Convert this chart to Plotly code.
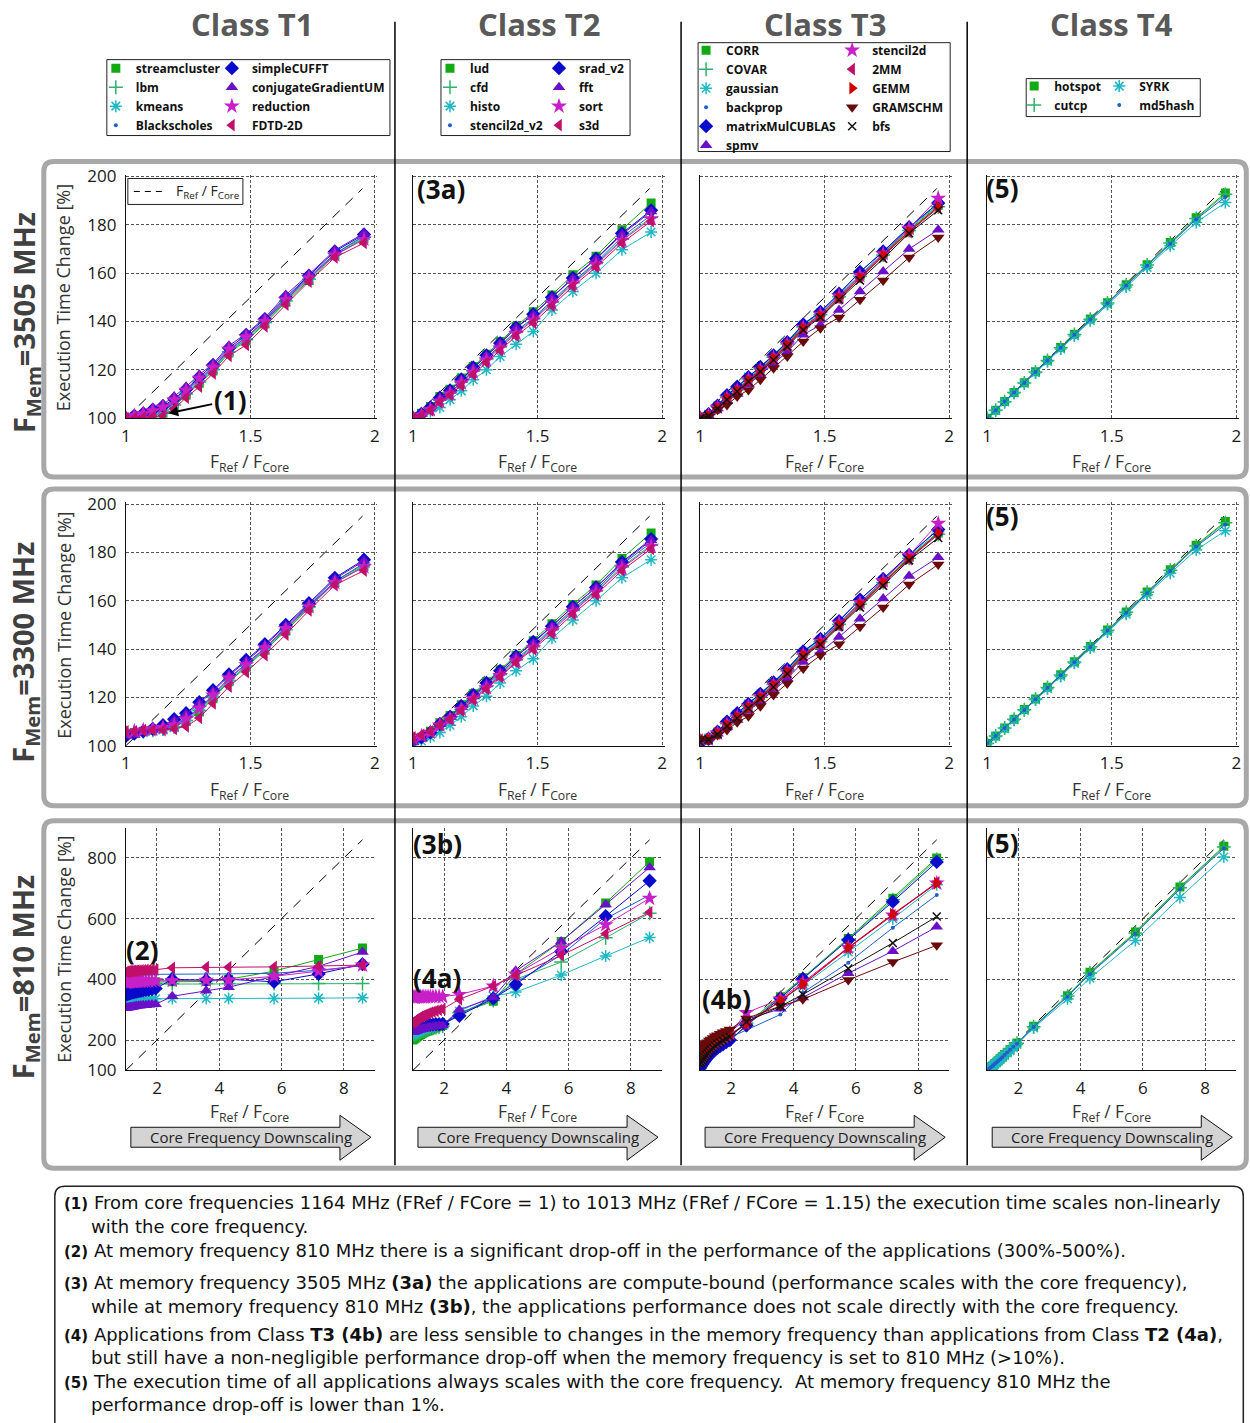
import plotly.graph_objects as go

# ------------------------------------------------------------------ data
X_HI = [1.0, 1.034, 1.07, 1.108, 1.149, 1.194, 1.242, 1.295, 1.35, 1.414, 1.483, 1.558, 1.642, 1.735, 1.839, 1.956]
X_LO = [1.0, 1.034, 1.07, 1.108, 1.149, 1.194, 1.242, 1.295, 1.35, 1.414, 1.483, 1.558, 1.642, 1.735, 1.839, 1.956,
        2.49, 3.58, 4.3, 5.76, 7.19, 8.6]
DIAG_HI_X = [1.0, 1.95]
DIAG_HI_Y = [100, 195]
DIAG_LO_X = [1.0, 8.6]
DIAG_LO_Y = [100, 860]

X_TICKS_HI = [1, 1.5, 2]
X_TICKTEXT_HI = ["1", "1.5", "2"]
Y_TICKS_HI = [100, 120, 140, 160, 180, 200]
X_TICKS_LO = [2, 4, 6, 8]
Y_TICKS_LO = [100, 200, 400, 600, 800]

CLASS_TITLES = ["Class T1", "Class T2", "Class T3", "Class T4"]
MEM_LABELS = ["F<sub>Mem</sub>=3505 MHz", "F<sub>Mem</sub>=3300 MHz", "F<sub>Mem</sub>=810 MHz"]

T1_NAMES = ["streamcluster", "lbm", "kmeans", "Blackscholes", "simpleCUFFT", "conjugateGradientUM", "reduction", "FDTD-2D"]
T1_KINDS = ["sq", "plus", "ast", "dot", "dia", "tri", "star", "ltri"]
T1_3505 = {
    "streamcluster": [100, 100.5, 101, 101.5, 102, 105, 109.5, 114.5, 119.5, 127, 132, 139, 148, 157, 167.5, 174.5],
    "lbm": [100, 100.5, 101, 101.5, 102, 105.5, 110, 115, 120, 127.5, 132.5, 139.5, 148.5, 157.5, 168, 175],
    "kmeans": [100, 100.6, 101.2, 102, 103, 106, 110.5, 115.5, 120.5, 127.5, 133, 140, 149, 158, 167.5, 174],
    "Blackscholes": [100, 100.8, 101.5, 102.5, 103.5, 107, 111, 116, 121, 128, 133.5, 140.5, 149.5, 158.5, 168, 175.5],
    "simpleCUFFT": [100, 101, 102, 103.5, 105, 108, 112, 117, 122, 129, 134.5, 141, 150, 159, 169, 176],
    "conjugateGradientUM": [100, 101.4, 102.2, 104, 105.8, 109, 113, 118, 122.5, 130, 135, 141.5, 151, 159.5, 169.5, 176.5],
    "reduction": [100, 101, 101.8, 103, 104.5, 107.5, 111.5, 116.5, 121, 128.5, 133.5, 140, 149, 158, 167.5, 174],
    "FDTD-2D": [100, 100, 100.3, 100.6, 101, 104, 108.5, 113, 118.5, 125.8, 130.3, 138, 147, 156.5, 166.5, 172.5],
}
T1_3300 = {
    "streamcluster": [105, 105.5, 106, 106.5, 107, 108, 110, 114, 119.5, 126.5, 132.5, 139.5, 147.5, 157, 167.5, 174.5],
    "lbm": [105, 105.5, 106, 106.5, 107, 108, 110.5, 114.5, 120, 127, 133, 140, 148, 157.5, 168, 175],
    "kmeans": [104.5, 105, 105.5, 106, 106.5, 107.5, 110.5, 115, 120.5, 127, 133, 140, 148.5, 157.5, 167.5, 174],
    "Blackscholes": [104, 104.5, 105.5, 106, 107, 108.5, 111.5, 115.5, 121, 128, 134, 140.5, 149, 158, 168, 175.5],
    "simpleCUFFT": [104, 105, 106, 107, 108.5, 111, 113.5, 118, 123, 129.5, 135.5, 142, 150, 159, 169.5, 177],
    "conjugateGradientUM": [104, 104.5, 105.5, 106.5, 108, 110.5, 113, 117.5, 122.5, 129, 135, 141.5, 149.5, 158.5, 169, 176.5],
    "reduction": [105.5, 106, 106.5, 107, 107.5, 108.5, 111, 115.5, 121, 128, 133.5, 140.5, 148.5, 157.5, 167.5, 174],
    "FDTD-2D": [106, 106, 106.5, 106.5, 106.5, 107, 108, 111.5, 117.5, 124.5, 130.5, 137.5, 146, 156, 166.5, 172.5],
}
T1_810 = {
    "streamcluster": [386, 387, 387, 388, 388, 388, 389, 389, 389, 390, 390, 390, 391, 391, 391, 392, 392, 393, 400, 427, 465, 503],
    "lbm": [384, 384, 385, 385, 385, 385, 385, 385, 386, 386, 386, 386, 386, 386, 386, 386, 386, 386, 386, 386, 386, 386],
    "kmeans": [333, 333, 334, 334, 334, 334, 335, 335, 335, 335, 335, 336, 336, 336, 336, 336, 337, 337, 337, 337, 338, 339],
    "Blackscholes": [416, 416, 416, 417, 417, 417, 417, 417, 418, 418, 418, 418, 418, 418, 418, 418, 418, 418, 418, 420, 430, 445],
    "simpleCUFFT": [350, 351, 352, 354, 355, 356, 357, 359, 360, 361, 362, 364, 365, 366, 368, 370, 400, 397, 400, 392, 418, 450],
    "conjugateGradientUM": [305, 306, 307, 307, 308, 309, 310, 311, 312, 313, 314, 315, 315, 316, 317, 318, 344, 362, 374, 410, 443, 490],
    "reduction": [390, 390, 391, 391, 391, 392, 392, 392, 393, 393, 393, 394, 394, 394, 395, 395, 396, 397, 398, 410, 427, 447],
    "FDTD-2D": [425, 425, 426, 426, 427, 427, 428, 428, 429, 429, 430, 430, 431, 431, 432, 432, 438, 440, 440, 441, 443, 447],
}

T2_NAMES = ["lud", "cfd", "histo", "stencil2d_v2", "srad_v2", "fft", "sort", "s3d"]
T2_KINDS = ["sq", "plus", "ast", "dot", "dia", "tri", "star", "ltri"]
T2_3505 = {
    "lud": [100, 102, 104.8, 109, 112, 116.6, 121.4, 126.5, 131.7, 138, 144, 151, 159.3, 167, 178, 189],
    "cfd": [100, 101.5, 104, 107.5, 110.5, 115, 119.5, 124.5, 129.5, 135.5, 141, 148, 156, 164, 174, 183],
    "histo": [100, 100.8, 102.8, 104.4, 107.6, 111.3, 115.9, 120, 125.5, 130.6, 135.9, 144.8, 152.4, 160, 169.7, 177],
    "stencil2d_v2": [100, 101.5, 104, 107.5, 110.5, 115, 120, 125, 130, 136, 141.5, 148.5, 156.5, 164.5, 175, 184],
    "srad_v2": [100, 101.8, 104.5, 108.5, 111.5, 116, 121, 126, 131, 137.5, 143, 150, 158, 166, 176.5, 186],
    "fft": [100, 101.8, 104.3, 108.3, 111.3, 115.8, 120.8, 125.8, 130.8, 137.3, 142.8, 149.8, 157.8, 165.8, 176, 185.5],
    "sort": [100, 101.3, 103.5, 107, 110, 114.5, 119, 124, 129, 135, 140.5, 147.5, 155.5, 163.5, 173.5, 182.5],
    "s3d": [100, 101, 103.2, 106.5, 109.5, 113.5, 118, 123, 128, 134, 139.5, 146.5, 154.5, 162.5, 172.5, 181.5],
}
T2_3300 = {
    "lud": [102, 103.5, 106, 109.5, 112.5, 117, 121.5, 126.5, 131.5, 137.5, 143.5, 150.5, 158.5, 166.5, 177.5, 188],
    "cfd": [101, 102.5, 105, 108, 111, 115, 119.5, 124.5, 129.5, 135.5, 141, 148, 156, 164, 174, 183],
    "histo": [101, 102, 103.5, 105.5, 108.5, 112, 116.5, 120.5, 126, 131, 136, 144.5, 152, 160, 169.5, 177],
    "stencil2d_v2": [101.5, 103, 105, 108.5, 111.5, 115.5, 120, 125, 130, 136, 141.5, 148.5, 156.5, 164.5, 175, 184],
    "srad_v2": [102, 103.5, 105.5, 109, 112, 116.5, 121, 126, 131, 137, 143, 149.5, 157.5, 165.5, 176, 185.5],
    "fft": [101.5, 103, 105.5, 109, 112, 116, 120.5, 125.5, 130.5, 137, 142.5, 149.5, 157.5, 165.5, 175.5, 185],
    "sort": [103, 104, 105.5, 108.5, 111, 115, 119.5, 124, 129, 135, 140.5, 147.5, 155.5, 163.5, 173.5, 182.5],
    "s3d": [103.5, 104.5, 106, 108.5, 111, 114.5, 119, 123.5, 128.5, 134.5, 140, 146.5, 154.5, 162.5, 172.5, 181.5],
}
T2_810 = {
    "lud": [200, 203, 206, 209, 212, 215, 218, 221, 224, 227, 230, 233, 237, 240, 244, 248, 288, 328, 417, 525, 652, 788],
    "cfd": [215, 217, 219, 221, 223, 225, 227, 229, 231, 233, 235, 237, 239, 241, 243, 245, 290, 330, 400, 457, 537, 618],
    "histo": [220, 222, 224, 226, 228, 230, 232, 234, 236, 238, 240, 242, 244, 246, 248, 250, 295, 345, 358, 414, 477, 538],
    "stencil2d_v2": [235, 236, 238, 239, 240, 242, 243, 244, 246, 247, 248, 250, 251, 252, 254, 255, 285, 340, 390, 480, 600, 678],
    "srad_v2": [242, 243, 244, 244, 245, 246, 247, 247, 248, 249, 250, 250, 251, 252, 252, 253, 280, 337, 383, 492, 608, 725],
    "fft": [226, 227, 229, 230, 232, 233, 235, 236, 238, 239, 241, 242, 244, 245, 247, 248, 300, 340, 428, 525, 647, 769],
    "sort": [341, 341, 341, 342, 342, 342, 342, 342, 342, 342, 343, 343, 343, 343, 343, 343, 350, 378, 417, 503, 580, 667],
    "s3d": [258, 261, 264, 267, 270, 273, 276, 278, 281, 284, 287, 290, 293, 296, 299, 302, 334, 378, 413, 479, 550, 621],
}

T3_NAMES = ["CORR", "COVAR", "gaussian", "backprop", "matrixMulCUBLAS", "spmv", "stencil2d", "2MM", "GEMM", "GRAMSCHM", "bfs"]
T3_KINDS = ["sq", "plus", "ast", "dot", "dia", "tri", "star", "ltri", "rtri", "dtri", "x"]
T3_3505 = {
    "CORR": [100, 101.5, 104.8, 108.8, 112, 116.5, 120.5, 125.5, 131, 138, 143, 150.5, 159, 167.8, 178, 188],
    "COVAR": [100, 101.5, 104.7, 108.6, 111.8, 116.2, 120.3, 125.2, 130.7, 137.7, 142.8, 150.2, 158.7, 167.5, 177.6, 187.5],
    "gaussian": [100, 101.6, 105, 109, 112.5, 117, 121, 126, 131.5, 138.5, 143.5, 151, 159.5, 168.5, 178.5, 188.5],
    "backprop": [100, 101.8, 105.3, 109.5, 113, 117.2, 121.4, 126.2, 131.7, 139, 144, 151.7, 160.5, 169, 179, 189],
    "matrixMulCUBLAS": [100, 101.7, 105.2, 109.5, 113, 117, 121.2, 126, 131.5, 138.8, 144, 151.5, 160.5, 169, 179, 189],
    "spmv": [100, 101, 104, 107, 110, 114, 118, 122.5, 127.5, 134.5, 138.6, 144.8, 152.4, 160.7, 170, 178],
    "stencil2d": [100, 101.2, 104.5, 108.3, 111.5, 116, 120, 125, 130.5, 137.5, 143, 150.5, 159, 168, 178.5, 191],
    "2MM": [100, 101, 104.2, 108, 111.2, 115.5, 119.5, 124.5, 130, 137, 142, 149.5, 158, 167, 177, 187],
    "GEMM": [100, 101, 104.3, 108.2, 111.4, 115.7, 119.8, 124.8, 130.3, 137.3, 142.3, 149.8, 158.3, 167.3, 177.3, 187.5],
    "GRAMSCHM": [100, 100.7, 103.5, 105.5, 109, 111.7, 115.9, 120.7, 125.5, 131.7, 137.2, 141.7, 149, 157, 166.5, 174.8],
    "bfs": [100, 101, 104, 107.6, 111, 115.2, 119.3, 124.1, 129.6, 136.5, 141.7, 149, 157, 166, 176.5, 186],
}
T3_3300 = {
    "CORR": [102, 103, 105.5, 109.3, 112.5, 116.8, 120.8, 125.7, 131.2, 138.2, 143.2, 150.6, 159, 167.8, 178, 188],
    "COVAR": [102, 103, 105.4, 109.1, 112.3, 116.5, 120.6, 125.4, 130.9, 137.9, 143, 150.3, 158.7, 167.5, 177.6, 187.5],
    "gaussian": [102, 103.2, 105.7, 109.5, 113, 117.3, 121.3, 126.2, 131.7, 138.7, 143.7, 151.1, 159.5, 168.5, 178.5, 188.5],
    "backprop": [101.5, 103.2, 106, 110, 113.5, 117.5, 121.7, 126.4, 131.9, 139.2, 144.2, 151.8, 160.5, 169, 179, 189.5],
    "matrixMulCUBLAS": [101, 102.8, 105.8, 110, 113.5, 117.3, 121.5, 126.2, 131.7, 139, 144.2, 151.6, 160.5, 169, 179, 189.5],
    "spmv": [102.5, 103, 105, 107.8, 110.7, 114.5, 118.4, 122.8, 127.8, 134.7, 138.8, 145, 152.6, 160.9, 170.2, 178],
    "stencil2d": [102, 102.6, 105.2, 108.8, 112, 116.3, 120.3, 125.2, 130.7, 137.7, 143.2, 150.7, 159.2, 168.2, 178.8, 192],
    "2MM": [102.5, 102.8, 105, 108.6, 111.7, 115.8, 119.8, 124.7, 130.2, 137.2, 142.2, 149.7, 158.2, 167.2, 177.2, 187.5],
    "GEMM": [102.5, 102.8, 105.1, 108.7, 111.9, 116, 120, 125, 130.5, 137.5, 142.5, 150, 158.5, 167.5, 177.5, 188],
    "GRAMSCHM": [103, 102.5, 104.5, 106.5, 109.7, 112.2, 116.3, 121, 125.8, 132, 137.4, 142, 149.2, 157.2, 166.7, 175],
    "bfs": [101.5, 102.5, 104.8, 108.2, 111.4, 115.5, 119.5, 124.3, 129.8, 136.7, 141.9, 149.2, 157.2, 166.2, 176.7, 186],
}
T3_810 = {
    "CORR": [132, 137, 143, 149, 155, 160, 166, 172, 178, 184, 189, 195, 201, 207, 212, 218, 253, 343, 405, 535, 667, 800],
    "COVAR": [130, 136, 142, 147, 153, 159, 165, 170, 176, 182, 188, 194, 199, 205, 211, 217, 255, 340, 402, 532, 662, 795],
    "gaussian": [128, 134, 139, 145, 151, 156, 162, 168, 174, 179, 185, 191, 196, 202, 208, 214, 252, 330, 380, 490, 600, 712],
    "backprop": [125, 131, 136, 142, 147, 153, 158, 164, 169, 175, 180, 186, 191, 197, 202, 208, 233, 284, 356, 455, 570, 678],
    "matrixMulCUBLAS": [108, 114, 120, 126, 132, 138, 144, 150, 156, 162, 168, 174, 180, 186, 193, 200, 248, 338, 402, 530, 656, 787],
    "spmv": [150, 155, 160, 165, 171, 176, 181, 186, 192, 197, 202, 207, 213, 218, 223, 228, 268, 303, 340, 420, 493, 573],
    "stencil2d": [140, 145, 151, 156, 162, 167, 173, 178, 184, 189, 195, 200, 206, 211, 217, 222, 290, 335, 390, 505, 612, 717],
    "2MM": [135, 141, 146, 152, 157, 163, 168, 174, 179, 185, 190, 196, 201, 207, 212, 218, 253, 328, 383, 503, 612, 720],
    "GEMM": [132, 138, 143, 149, 154, 160, 165, 171, 176, 182, 187, 193, 198, 204, 209, 215, 253, 330, 385, 505, 615, 717],
    "GRAMSCHM": [165, 170, 174, 179, 184, 188, 193, 198, 202, 207, 212, 216, 221, 226, 230, 235, 271, 312, 334, 398, 457, 512],
    "bfs": [120, 126, 132, 138, 144, 150, 156, 162, 168, 174, 180, 186, 192, 198, 204, 210, 260, 311, 350, 436, 520, 607],
}

T4_NAMES = ["hotspot", "cutcp", "SYRK", "md5hash"]
T4_KINDS = ["sq", "plus", "ast", "dot"]
T4_3505 = {
    "hotspot": [100, 103.3, 106.9, 110.6, 114.7, 119.2, 124, 129.2, 134.7, 141, 147.8, 155.2, 163.5, 172.7, 182.9, 193.2],
    "cutcp": [100, 103.3, 106.8, 110.6, 114.6, 119.1, 123.9, 129.1, 134.6, 140.9, 147.7, 155.1, 163.4, 172.5, 182.6, 192.6],
    "SYRK": [100, 103.2, 106.7, 110.4, 114.4, 118.8, 123.5, 128.6, 134, 140.3, 147, 154.3, 162.4, 171.3, 181, 189.2],
    "md5hash": [100, 103.3, 106.9, 110.6, 114.6, 119.1, 123.9, 129.1, 134.5, 140.8, 147.6, 154.9, 163.1, 172.2, 182.3, 191.5],
}
T4_3300 = {
    "hotspot": [101, 104, 107.4, 111, 115, 119.4, 124.2, 129.4, 134.8, 141.1, 147.9, 155.3, 163.6, 172.8, 183, 192.8],
    "cutcp": [101, 104, 107.3, 111, 114.9, 119.3, 124.1, 129.3, 134.7, 141, 147.8, 155.2, 163.5, 172.6, 182.7, 192.3],
    "SYRK": [100.8, 103.8, 107.1, 110.7, 114.6, 119, 123.6, 128.7, 134.1, 140.4, 147.1, 154.4, 162.5, 171.4, 181, 189],
    "md5hash": [101, 104, 107.3, 110.9, 114.8, 119.2, 124, 129.2, 134.6, 140.9, 147.7, 155, 163.2, 172.3, 182.4, 191.5],
}
T4_810 = {
    "hotspot": [100, 102, 105, 109, 113, 117, 122, 127, 132, 138, 145, 152, 160, 169, 179, 190, 245, 346, 423, 556, 704, 839],
    "cutcp": [100, 102, 105, 109, 113, 117, 122, 127, 132, 138, 144, 151, 160, 169, 179, 189, 244, 345, 421, 553, 702, 836],
    "SYRK": [100, 102, 105, 108, 112, 116, 120, 125, 130, 136, 142, 149, 157, 165, 175, 185, 240, 335, 404, 528, 670, 803],
    "md5hash": [100, 102, 105, 109, 113, 117, 122, 126, 131, 137, 143, 151, 159, 168, 178, 188, 243, 343, 418, 550, 698, 832],
}

CLASSES = [
    (T1_NAMES, T1_KINDS, [T1_3505, T1_3300, T1_810], 4),
    (T2_NAMES, T2_KINDS, [T2_3505, T2_3300, T2_810], 4),
    (T3_NAMES, T3_KINDS, [T3_3505, T3_3300, T3_810], 6),
    (T4_NAMES, T4_KINDS, [T4_3505, T4_3300, T4_810], 2),
]

# ------------------------------------------------------------------ styles
KIND = {
    "sq": ("square", "#12AA12", 9),
    "plus": ("cross-thin", "#2DB36A", 10),
    "ast": ("asterisk", "#1FB8C4", 10),
    "dot": ("circle", "#1F5FCC", 4),
    "dia": ("diamond", "#0A0ACC", 11),
    "tri": ("triangle-up", "#6A10C8", 11),
    "star": ("star", "#C820C8", 12),
    "ltri": ("triangle-left", "#C0106A", 11),
    "rtri": ("triangle-right", "#D00000", 11),
    "dtri": ("triangle-down", "#6B0A0A", 11),
    "x": ("x-thin", "#111111", 8),
}
THIN = {"cross-thin", "asterisk", "x-thin"}
FONT = "Open Sans"
NOTE_FONT = "DejaVu Sans"
FW, FH = 1250, 1423
# measured mapping between figure pixels and the photographed page
AX, BX = 0.994, 5.2
AY, BY = 0.9865, 8.3


def px(x):
    return (x - BX) / AX / FW


def py(y):
    return 1 - (y - BY) / AY / FH


def rrect(x0, y0, x1, y1, r):
    pts = [
        ("M", [(x0 + r, y0)]), ("L", [(x1 - r, y0)]), ("Q", [(x1, y0), (x1, y0 + r)]),
        ("L", [(x1, y1 - r)]), ("Q", [(x1, y1), (x1 - r, y1)]), ("L", [(x0 + r, y1)]),
        ("Q", [(x0, y1), (x0, y1 - r)]), ("L", [(x0, y0 + r)]), ("Q", [(x0, y0), (x0 + r, y0)]),
    ]
    s = ""
    for cmd, ps in pts:
        s += cmd + " ".join(f"{px(a):.5f},{py(b):.5f}" for a, b in ps) + " "
    return s + "Z"


def poly(points):
    s = "M" + " L".join(f"{px(a):.5f},{py(b):.5f}" for a, b in points)
    return s + " Z"


fig = go.Figure()
layout = dict(
    width=FW, height=FH, margin=dict(l=0, r=0, t=0, b=0),
    paper_bgcolor="white", plot_bgcolor="white",
    font=dict(family=FONT, color="#222"),
    showlegend=True,
)

ROW_PIX = [(175, 417), (503, 745), (827, 1070)]
for r in range(3):
    for c in range(4):
        k = r * 4 + c + 1
        sfx = "" if k == 1 else str(k)
        left = 126 + 287 * c
        top, bot = ROW_PIX[r]
        if r < 2:
            xr, yr = [1, 2.01], [100, 200.8]
            xdom = [px(left), px(left + 249 * 1.01)]
            ydom = [py(bot), py(bot - 242 * 1.008)]
            xt, xtt, yt = X_TICKS_HI, X_TICKTEXT_HI, Y_TICKS_HI
        else:
            xr, yr = [1, 9], [100, 900]
            xdom = [px(left), px(left + 249)]
            ydom = [py(bot), py(top)]
            xt, xtt, yt = X_TICKS_LO, [str(v) for v in X_TICKS_LO], Y_TICKS_LO
        common = dict(showgrid=True, gridcolor="#555", gridwidth=0.8, griddash="3px,2px",
                      showline=True, linecolor="#111", linewidth=1, zeroline=False, ticks="",
                      tickfont=dict(family=FONT, size=17, color="#1a1a1a"), fixedrange=True)
        layout["xaxis" + sfx] = dict(domain=xdom, range=xr, anchor="y" + sfx, tickmode="array",
                                     tickvals=xt, ticktext=xtt, ticklabelstandoff=2, **common)
        layout["yaxis" + sfx] = dict(domain=ydom, range=yr, anchor="x" + sfx, tickmode="array",
                                     tickvals=yt, showticklabels=(c == 0), ticklabelstandoff=5, **common)

        # reference diagonal F_Ref / F_Core
        dx, dy = (DIAG_HI_X, DIAG_HI_Y) if r < 2 else (DIAG_LO_X, DIAG_LO_Y)
        fig.add_trace(go.Scatter(x=dx, y=dy, mode="lines", xaxis="x" + sfx, yaxis="y" + sfx,
                                 line=dict(color="black", width=1, dash="10px,8px"),
                                 showlegend=False, hoverinfo="skip"))

        names, kinds, rows, split = CLASSES[c]
        xs = X_HI if r < 2 else X_LO
        for i, (nm, kd) in enumerate(zip(names, kinds)):
            sym, col, sz = KIND[kd]
            fig.add_trace(go.Scatter(x=xs, y=rows[r][nm], mode="lines", xaxis="x" + sfx, yaxis="y" + sfx,
                                     line=dict(color=col, width=1), showlegend=False, hoverinfo="skip"))
            mk = dict(symbol=sym, size=sz, color=col,
                      line=dict(color=col, width=1.5 if sym in THIN else 0))
            lg = 2 * c + (0 if i < split else 1)
            lgname = "legend" if lg == 0 else f"legend{lg + 1}"
            fig.add_trace(go.Scatter(x=xs, y=rows[r][nm], mode="markers", xaxis="x" + sfx, yaxis="y" + sfx,
                                     marker=mk, name=nm, showlegend=(r == 0), legend=lgname))

# ------------------------------------------------------------------ legends (x = text start - 40)
LEG_POS = [(96, 52), (212, 52), (430, 52), (539, 52), (686, 34), (832, 34), (1014, 70), (1099, 70)]
for j, (lx, ly) in enumerate(LEG_POS):
    key = "legend" if j == 0 else f"legend{j + 1}"
    layout[key] = dict(x=px(lx), y=py(ly), xanchor="left", yanchor="top",
                       bgcolor="rgba(0,0,0,0)", borderwidth=0, tracegroupgap=0,
                       font=dict(family=FONT, size=12, color="#111", weight="bold"),
                       itemclick=False, itemdoubleclick=False)

shapes = []
LEG_BOX = [(107, 58, 390, 134), (441, 58, 630, 134), (698, 41, 950, 150), (1026, 77, 1200, 115)]
for (x0, y0, x1, y1) in LEG_BOX:
    shapes.append(dict(type="rect", xref="paper", yref="paper", x0=px(x0), x1=px(x1), y0=py(y1), y1=py(y0),
                       line=dict(color="#222", width=1), fillcolor="rgba(0,0,0,0)"))

# row boxes
for (y0, y1) in [(160, 476), (488, 805), (820, 1168)]:
    shapes.append(dict(type="path", xref="paper", yref="paper", path=rrect(44, y0, 1246, y1, 10),
                       line=dict(color="#A8A8A8", width=5), layer="below"))
# column separators
for xs_ in [395, 681, 967]:
    shapes.append(dict(type="line", xref="paper", yref="paper", x0=px(xs_), x1=px(xs_), y0=py(20), y1=py(1165),
                       line=dict(color="black", width=1.5)))
# downscaling arrows
for c in range(4):
    o = 287 * c
    shapes.append(dict(type="path", xref="paper", yref="paper",
                       path=poly([(131 + o, 1127), (340 + o, 1127), (340 + o, 1115), (371 + o, 1137),
                                  (340 + o, 1160), (340 + o, 1147), (131 + o, 1147)]),
                       fillcolor="#D4D4D4", line=dict(color="#111", width=1)))
# F_Ref / F_Core key box in first panel
shapes.append(dict(type="rect", xref="paper", yref="paper", x0=px(128), x1=px(243), y0=py(203), y1=py(177),
                   line=dict(color="#222", width=1), fillcolor="white"))
shapes.append(dict(type="line", xref="paper", yref="paper", x0=px(134), x1=px(166), y0=py(190), y1=py(190),
                   line=dict(color="black", width=1, dash="6px,5px")))
# notes box
shapes.append(dict(type="path", xref="paper", yref="paper", path=rrect(55, 1186, 1243, 1445, 10),
                   line=dict(color="#222", width=1.5)))
layout["shapes"] = shapes

# ------------------------------------------------------------------ annotations
ann = []


def A(text, x, y, size, color="#222", xa="center", ya="middle", angle=0, family=FONT):
    return dict(text=text, x=px(x), y=py(y), xref="paper", yref="paper", xanchor=xa, yanchor=ya,
                textangle=angle, showarrow=False, font=dict(family=family, size=size, color=color))


for c, t in enumerate(CLASS_TITLES):
    ann.append(A(f"<b>{t}</b>", 253 + 286 * c, 22, 31, "#595959"))
ROW_CENTERS = [321, 651, 976]
for r, t in enumerate(MEM_LABELS):
    ann.append(A(f"<b>{t}</b>", 25, ROW_CENTERS[r], 29, "#404040", angle=-90))
    ann.append(A("Execution Time Change [%]", 64, (ROW_PIX[r][0] + ROW_PIX[r][1]) / 2, 18, "#333", angle=-90))
    for c in range(4):
        ann.append(A("F<sub>Ref</sub> / F<sub>Core</sub>", 250 + 287 * c, [461, 790, 1112][r], 17.5, "#333"))
for c in range(4):
    ann.append(A("Core Frequency Downscaling", 251 + 287 * c, 1137, 15, "#222"))
ann.append(A("F<sub>Ref</sub> / F<sub>Core</sub>", 174, 190, 14, "#222", xa="left"))

for txt, x, y in [("(3a)", 415, 188), ("(3b)", 411, 843), ("(4a)", 411, 978), ("(4b)", 700, 999),
                  ("(5)", 984, 187), ("(5)", 984, 515), ("(5)", 984, 842), ("(2)", 124, 950)]:
    ann.append(A(f"<b>{txt}</b>", x, y, 26, "#111", xa="left"))
ann.append(dict(text="<b>(1)</b>", x=1.17, y=102, xref="x", yref="y", ax=62, ay=-13, showarrow=True,
                arrowhead=2, arrowsize=1, arrowwidth=2, arrowcolor="black",
                font=dict(family=FONT, size=26, color="#111")))

NUM = '<span style="font-size:15px"><b>{}</b></span> '
NOTES = [
    (62, 1202, NUM.format("(1)") + "From core frequencies 1164 MHz (FRef / FCore = 1) to 1013 MHz (FRef / FCore = 1.15) the execution time scales non-linearly"),
    (89, 1226, "with the core frequency."),
    (62, 1250, NUM.format("(2)") + "At memory frequency 810 MHz there is a significant drop-off in the performance of the applications (300%-500%)."),
    (62, 1282, NUM.format("(3)") + "At memory frequency 3505 MHz <b>(3a)</b> the applications are compute-bound (performance scales with the core frequency),"),
    (89, 1306, "while at memory frequency 810 MHz <b>(3b)</b>, the applications performance does not scale directly with the core frequency."),
    (62, 1334, NUM.format("(4)") + "Applications from Class <b>T3 (4b)</b> are less sensible to changes in the memory frequency than applications from Class <b>T2 (4a)</b>,"),
    (89, 1358, "but still have a non-negligible performance drop-off when the memory frequency is set to 810 MHz (&gt;10%)."),
    (62, 1382, NUM.format("(5)") + "The execution time of all applications always scales with the core frequency.  At memory frequency 810 MHz the"),
    (89, 1405, "performance drop-off is lower than 1%."),
]
for x, y, t in NOTES:
    ann.append(A(t, x, y, 18, "#111", xa="left", family=NOTE_FONT))
layout["annotations"] = ann

fig.update_layout(**layout)
fig.write_html("out.html")
